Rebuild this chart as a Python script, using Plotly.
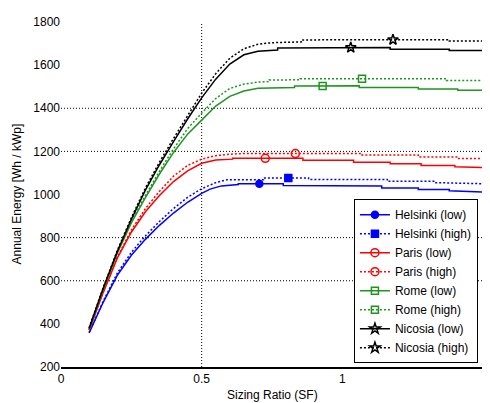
import numpy as np
import plotly.graph_objects as go

# ---------------- data ----------------
helsinki_low_x = [0.10,0.15,0.20,0.25,0.30,0.35,0.40,0.45,0.50,0.53,0.57,0.63,0.63,0.79,0.79,1.14,1.14,1.27,1.27,1.38,1.38,1.50]
helsinki_low_y = [358,500,625,718,792,857,914,964,1005,1025,1040,1046,1050,1050,1042,1039,1030,1030,1023,1023,1017,1011]

helsinki_high_x = [0.10,0.15,0.20,0.25,0.30,0.35,0.40,0.45,0.50,0.55,0.59,0.72,0.72,0.88,0.88,1.16,1.16,1.33,1.33,1.50]
helsinki_high_y = [360,505,635,732,808,875,935,987,1027,1055,1068,1068,1077,1077,1070,1070,1061,1061,1055,1050]

paris_low_x = [0.10,0.15,0.20,0.25,0.30,0.35,0.40,0.45,0.50,0.55,0.61,0.61,0.86,0.86,1.04,1.04,1.17,1.17,1.28,1.28,1.40,1.40,1.50]
paris_low_y = [370,545,705,825,920,995,1060,1110,1145,1160,1164,1168,1168,1159,1159,1150,1150,1143,1143,1135,1135,1129,1125]

paris_high_x = [0.10,0.15,0.20,0.25,0.30,0.35,0.40,0.45,0.50,0.55,0.60,0.65,1.07,1.07,1.27,1.27,1.41,1.41,1.50]
paris_high_y = [372,548,710,835,935,1015,1085,1135,1164,1180,1187,1190,1190,1183,1183,1174,1174,1167,1167]

rome_low_x = [0.10,0.15,0.20,0.25,0.30,0.35,0.40,0.45,0.50,0.55,0.60,0.65,0.70,0.83,0.83,1.06,1.06,1.27,1.27,1.41,1.41,1.50]
rome_low_y = [375,560,728,868,985,1095,1195,1280,1345,1410,1455,1480,1493,1496,1503,1504,1496,1496,1489,1489,1483,1483]

rome_high_x = [0.10,0.15,0.20,0.25,0.30,0.35,0.40,0.45,0.50,0.55,0.60,0.65,0.70,0.74,0.74,0.85,0.85,1.37,1.37,1.50]
rome_high_y = [378,563,732,875,995,1108,1212,1305,1378,1445,1492,1512,1521,1524,1531,1532,1537,1537,1529,1529]

nicosia_low_x = [0.10,0.15,0.20,0.25,0.30,0.35,0.40,0.45,0.50,0.55,0.60,0.65,0.70,0.77,0.77,1.17,1.17,1.38,1.38,1.50]
nicosia_low_y = [378,565,735,885,1020,1138,1245,1350,1448,1535,1605,1648,1664,1670,1680,1682,1674,1674,1668,1668]

nicosia_high_x = [0.10,0.15,0.20,0.25,0.30,0.35,0.40,0.45,0.50,0.55,0.60,0.65,0.70,0.75,0.86,0.86,1.38,1.38,1.50]
nicosia_high_y = [382,568,740,892,1030,1150,1260,1368,1470,1560,1632,1676,1697,1704,1708,1717,1718,1712,1712]

series_names = ["Helsinki (low)", "Helsinki (high)", "Paris (low)", "Paris (high)",
                "Rome (low)", "Rome (high)", "Nicosia (low)", "Nicosia (high)"]
marker_at_x = [0.705, 0.808, 0.726, 0.833, 0.93, 1.07, 1.03, 1.18]

x_ticks = [0, 0.5, 1, 1.5]
x_tick_labels = ["0", "0.5", "1", "1.5"]
y_ticks = [200, 400, 600, 800, 1000, 1200, 1400, 1600, 1800]
grid_y = [600, 800, 1200, 1400]
grid_x = [0.5]

# ---------------- styles ----------------
BLUE, RED, GREEN, BLACK = "#0000ff", "#ff0000", "#1e961e", "#000000"
xs = [helsinki_low_x, helsinki_high_x, paris_low_x, paris_high_x,
      rome_low_x, rome_high_x, nicosia_low_x, nicosia_high_x]
ys = [helsinki_low_y, helsinki_high_y, paris_low_y, paris_high_y,
      rome_low_y, rome_high_y, nicosia_low_y, nicosia_high_y]
colors = [BLUE, BLUE, RED, RED, GREEN, GREEN, BLACK, BLACK]
dashes = ["solid", "2px,2px"] * 4
symbols = ["circle", "square", "circle-open", "circle-open",
           "square-open", "square-open", "star-open", "star-open"]
msizes = [7, 7, 8, 8, 7, 7, 8, 8]

fig = go.Figure()
for i in range(8):
    fig.add_trace(go.Scatter(
        x=xs[i], y=ys[i], mode="lines", showlegend=False,
        line=dict(color=colors[i], width=1.5, dash=dashes[i]),
        hoverinfo="skip"))
    my = float(np.interp(marker_at_x[i], xs[i], ys[i]))
    fig.add_trace(go.Scatter(
        x=[marker_at_x[i]], y=[my], mode="markers", showlegend=False,
        marker=dict(symbol=symbols[i], size=msizes[i], color=colors[i],
                    line=dict(color=colors[i], width=1.5))))
for i in range(8):
    fig.add_trace(go.Scatter(
        x=[None], y=[None], mode="lines+markers", name=series_names[i],
        line=dict(color=colors[i], width=1.5, dash=dashes[i]),
        marker=dict(symbol=symbols[i], size=msizes[i], color=colors[i],
                    line=dict(color=colors[i], width=1.5))))

shapes = []
for v in grid_y:
    shapes.append(dict(type="line", xref="x", yref="y", x0=0, x1=1.5, y0=v, y1=v,
                       line=dict(color="black", width=1, dash="1px,2px"), layer="below"))
for v in grid_x:
    shapes.append(dict(type="line", xref="x", yref="y", x0=v, x1=v, y0=200, y1=1800,
                       line=dict(color="black", width=1, dash="1px,2px"), layer="below"))
shapes.append(dict(type="line", xref="x", yref="paper", x0=1.5, x1=1.5, y0=0, y1=1,
                   line=dict(color="#444444", width=2)))

font_family = "Liberation Sans, Arial, sans-serif"
# page body has an 8px default margin, so the figure is sized to fit the 490x403 window
fig.update_layout(
    width=482, height=395,
    margin=dict(l=53, r=7, t=7, b=36),
    paper_bgcolor="white", plot_bgcolor="white",
    font=dict(family=font_family, size=12, color="black"),
    shapes=shapes,
    showlegend=True,
    legend=dict(x=0.988, y=0.011, xanchor="right", yanchor="bottom",
                bgcolor="white", bordercolor="black", borderwidth=1,
                font=dict(size=12), itemwidth=30, tracegroupgap=0),
    xaxis=dict(range=[0, 1.5], tickvals=x_ticks, ticktext=x_tick_labels,
               showgrid=False, zeroline=False, showline=True,
               linecolor="black", linewidth=2, ticks=""),
    yaxis=dict(range=[200, 1800], tickvals=y_ticks, showgrid=False,
               zeroline=False, showline=False, ticks=""),
    annotations=[
        dict(text="Sizing Ratio (SF)", xref="paper", yref="paper", x=0.5, y=-0.08,
             xanchor="center", yanchor="middle", showarrow=False, font=dict(size=12)),
        dict(text="Annual Energy [Wh / kWp]", xref="paper", yref="paper", x=-0.102, y=0.503,
             xanchor="center", yanchor="middle", textangle=-90, showarrow=False,
             font=dict(size=12)),
    ],
)

fig.write_html("out.html")
